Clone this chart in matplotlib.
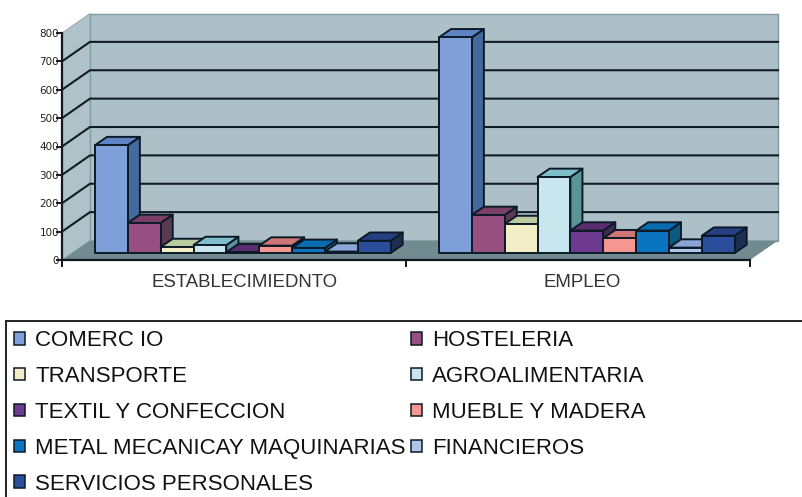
import matplotlib
matplotlib.use("Agg")
import matplotlib.pyplot as plt
from matplotlib.patches import Polygon, Patch, Rectangle

groups = ["ESTABLECIMIEDNTO", "EMPLEO"]
series = ["COMERC IO", "HOSTELERIA", "TRANSPORTE", "AGROALIMENTARIA",
          "TEXTIL Y CONFECCION", "MUEBLE Y MADERA",
          "METAL MECANICAY MAQUINARIAS", "FINANCIEROS", "SERVICIOS PERSONALES"]
establecimiento = [380, 106, 21, 28, 3, 26, 18, 5, 43]
empleo = [760, 134, 102, 268, 79, 52, 79, 19, 61]
yticks = [0, 100, 200, 300, 400, 500, 600, 700, 800]

front = ["#7F9FD8", "#964F80", "#F2EDC5", "#C8E6EE", "#6E3A90", "#F59790", "#0A74C0", "#AEC6E8", "#2A4E9A"]
top = ["#5E84C5", "#7A3F66", "#B9C9A0", "#7FBFCC", "#5A2D70", "#CF7575", "#0A6CB0", "#8AA5D5", "#263F80"]
side = ["#44699F", "#5A3A50", "#6F7F60", "#5A9499", "#3F2C50", "#404050", "#0A5A80", "#40506A", "#1E2E50"]

W, H = 802, 497
fig = plt.figure(figsize=(W / 100, H / 100), dpi=100, facecolor="white")
ax = fig.add_axes([62 / W, 1 - 260 / H, 688 / W, 227 / H])
ax.set_xlim(0, 2)
ax.set_ylim(0, 800)
ax.patch.set_visible(False)

PX = 2 / 688
PY = 800 / 227
DX, DY = 28 * PX, 19.5 * PY      # chart depth
BDX, BDY = 12 * PX, 8.3 * PY     # bar depth
BASE = 7 * PY                    # bar foot above front axis
START, BW = 0.096, 0.0955
INK = "#0C1A28"


def poly(pts, fc, ec=None, lw=0, z=1):
    ax.add_patch(Polygon(pts, closed=True, facecolor=fc, edgecolor=ec if ec else fc,
                         linewidth=lw, clip_on=False, zorder=z, joinstyle="round"))


ymax = yticks[-1]
poly([(DX, DY), (2 + DX, DY), (2 + DX, ymax + DY), (DX, ymax + DY)], "#ADC0C7", "#7E9AA0", 1.0)
poly([(0, 0), (DX, DY), (DX, ymax + DY), (0, ymax)], "#AFC2C9", "#8AA3AA", 0.6)
poly([(0, 0), (DX, DY), (2 + DX, DY), (2, 0)], "#708A90")

for v in yticks[1:-1]:
    ax.plot([0, DX, 2 + DX], [v, v + DY, v + DY], color="#101C26", lw=1.5, clip_on=False, zorder=2,
            solid_joinstyle="miter")

for g, values in enumerate([establecimiento, empleo]):
    for i, v in enumerate(values):
        x0 = g + START + i * BW
        x1 = x0 + BW
        y0, y1 = BASE, BASE + v
        kw = dict(ec=INK, lw=1.4, z=3 + g * 20 + i)
        poly([(x1, y0), (x1 + BDX, y0 + BDY), (x1 + BDX, y1 + BDY), (x1, y1)], side[i], **kw)
        poly([(x0, y1), (x1, y1), (x1 + BDX, y1 + BDY), (x0 + BDX, y1 + BDY)], top[i], **kw)
        poly([(x0, y0), (x1, y0), (x1, y1), (x0, y1)], front[i], **kw)

for s in ("top", "right"):
    ax.spines[s].set_visible(False)
for s in ("left", "bottom"):
    ax.spines[s].set_linewidth(1.6)
    ax.spines[s].set_color("#101820")
    ax.spines[s].set_zorder(60)

ax.set_yticks(yticks)
ax.set_yticklabels([str(v) for v in yticks], fontsize=7.5, color="#222222", family="DejaVu Sans")
ax.tick_params(axis="y", length=4, width=1.4, color="#101820", pad=-2)
ax.set_xticks([0, 1, 2])
ax.set_xticklabels([])
ax.tick_params(axis="x", which="major", length=5, width=1.4, color="#101820")
ax.set_xticks([0.532, 1.512], minor=True)
ax.set_xticklabels(groups, minor=True, fontsize=13.4, color="#333333", family="Liberation Sans")
ax.tick_params(axis="x", which="minor", length=0, pad=10)

# legend frame, running off the right and bottom of the picture
fig.add_artist(Rectangle((6 / W, -0.05), 1.0, 1 - 321 / H + 0.05, transform=fig.transFigure,
                         facecolor="none", edgecolor="#222222", linewidth=1.4))
handles = [Patch(facecolor=c, edgecolor=INK, linewidth=1.1) for c in front]
# matplotlib fills columns first: hand over the labels column by column
order = [0, 2, 4, 6, 8, 1, 3, 5, 7]
leg = fig.legend([handles[i] for i in order], [series[i] for i in order], ncol=2,
                 loc="upper left", bbox_to_anchor=(7 / W, 1 - 323 / H), frameon=False,
                 prop={"family": "Liberation Sans", "size": 16},
                 handlelength=0.5, handleheight=0.5, handletextpad=0.45,
                 labelspacing=0.67, columnspacing=0.25, borderpad=0.32, borderaxespad=0,
                 labelcolor="#111111")

fig.savefig("out.png", dpi=100)
